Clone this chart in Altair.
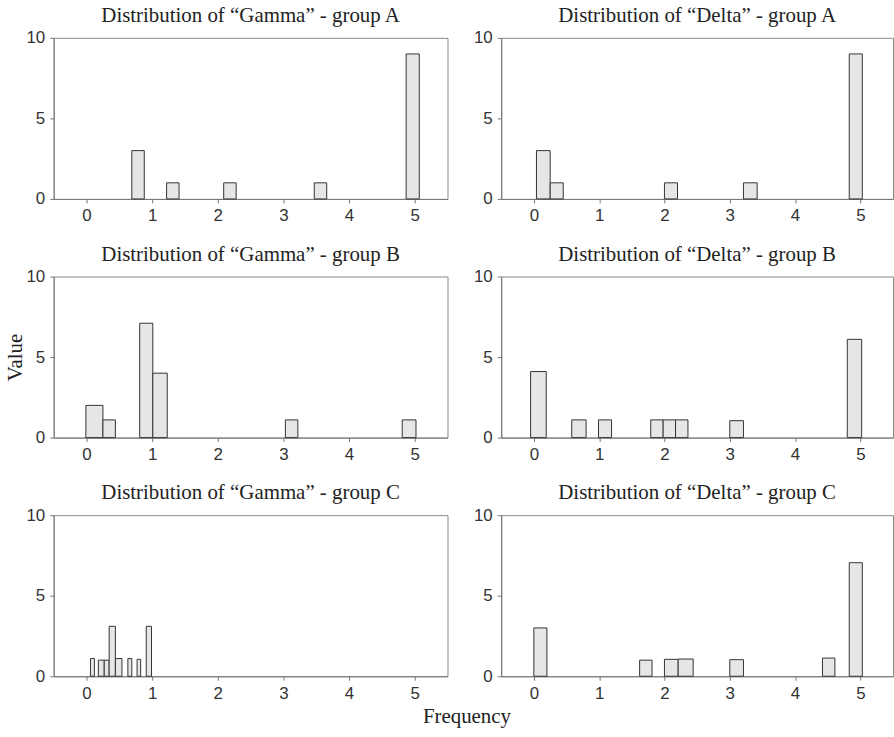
import altair as alt
import pandas as pd

# ---- data (bin start, bin end, value) ----
gammaA_start = [0.69, 1.22, 2.09, 3.47, 4.87]
gammaA_end = [0.88, 1.41, 2.28, 3.66, 5.07]
gammaA_val = [3.0, 1.0, 1.0, 1.0, 9.0]

deltaA_start = [0.04, 0.25, 2.00, 3.21, 4.83]
deltaA_end = [0.25, 0.45, 2.20, 3.42, 5.03]
deltaA_val = [3.0, 1.0, 1.0, 1.0, 9.0]

gammaB_start = [-0.01, 0.25, 0.81, 1.01, 3.03, 4.81]
gammaB_end = [0.25, 0.44, 1.01, 1.23, 3.22, 5.02]
gammaB_val = [2.0, 1.1, 7.1, 4.0, 1.1, 1.1]

deltaB_start = [-0.05, 0.58, 0.99, 1.79, 1.98, 2.17, 3.00, 4.80]
deltaB_end = [0.19, 0.80, 1.19, 1.98, 2.17, 2.36, 3.21, 5.02]
deltaB_val = [4.1, 1.1, 1.1, 1.1, 1.1, 1.1, 1.05, 6.1]

gammaC_start = [0.06, 0.18, 0.27, 0.345, 0.44, 0.63, 0.77, 0.91]
gammaC_end = [0.12, 0.27, 0.345, 0.44, 0.54, 0.69, 0.825, 0.99]
gammaC_val = [1.1, 1.0, 1.0, 3.1, 1.1, 1.1, 1.05, 3.1]

deltaC_start = [0.00, 1.62, 2.00, 2.21, 3.00, 4.42, 4.83]
deltaC_end = [0.20, 1.81, 2.21, 2.44, 3.21, 4.61, 5.03]
deltaC_val = [3.0, 1.0, 1.05, 1.07, 1.03, 1.13, 7.05]

titles = [
    "Distribution of \u201cGamma\u201d - group A",
    "Distribution of \u201cDelta\u201d - group A",
    "Distribution of \u201cGamma\u201d - group B",
    "Distribution of \u201cDelta\u201d - group B",
    "Distribution of \u201cGamma\u201d - group C",
    "Distribution of \u201cDelta\u201d - group C",
]
x_ticks = [0, 1, 2, 3, 4, 5]
y_ticks = [0, 5, 10]

series = [
    (gammaA_start, gammaA_end, gammaA_val),
    (deltaA_start, deltaA_end, deltaA_val),
    (gammaB_start, gammaB_end, gammaB_val),
    (deltaB_start, deltaB_end, deltaB_val),
    (gammaC_start, gammaC_end, gammaC_val),
    (deltaC_start, deltaC_end, deltaC_val),
]

SERIF = "Liberation Serif"
SANS = "Liberation Sans"


def panel(idx):
    s, e, v = series[idx]
    df = pd.DataFrame({"start": s, "end": e, "value": v})
    left = idx % 2 == 0
    ytitle_color = "#222" if idx == 2 else "transparent"
    yaxis = alt.Axis(
        values=y_ticks,
        format="d",
        title="Value" if left else None,
        titleColor=ytitle_color,
        titleFont=SERIF,
        titleFontSize=21,
        titleFontWeight="normal",
        titlePadding=0,
    )
    w = 396 if left else 394
    return (
        alt.Chart(df)
        .mark_rect(fill="#e6e6e6", stroke="#333333", strokeWidth=1)
        .encode(
            x=alt.X(
                "start:Q",
                scale=alt.Scale(domain=[-0.5, 5.5], nice=False, zero=False),
                axis=alt.Axis(values=x_ticks, format="d", title=None),
            ),
            x2="end:Q",
            y=alt.Y("value:Q", scale=alt.Scale(domain=[0, 10], nice=False), axis=yaxis),
            y2=alt.datum(0),
        )
        .properties(
            width=w,
            height=162,
            title=alt.TitleParams(
                titles[idx],
                font=SERIF,
                fontSize=21,
                fontWeight="normal",
                color="#222",
                offset=3,
            ),
        )
    )


rows = [
    alt.hconcat(panel(2 * r), panel(2 * r + 1), spacing=24) for r in range(3)
]

chart = (
    alt.vconcat(*rows, spacing=18)
    .properties(
        title=alt.TitleParams(
            "Frequency",
            orient="bottom",
            anchor="middle",
            font=SERIF,
            fontSize=21,
            fontWeight="normal",
            color="#222",
            offset=4,
            dx=18,
        ),
        padding={"left": 4, "top": 2, "right": 0, "bottom": 3},
    )
    .configure_view(stroke="#888888", strokeWidth=1)
    .configure_axis(
        grid=False,
        domainColor="#777777",
        tickColor="#777777",
        tickSize=4,
        labelColor="#333333",
        labelFont=SANS,
        labelFontSize=17,
        labelPadding=5,
    )
)

chart.save("out.html", embed_options={"renderer": "svg", "actions": False})
